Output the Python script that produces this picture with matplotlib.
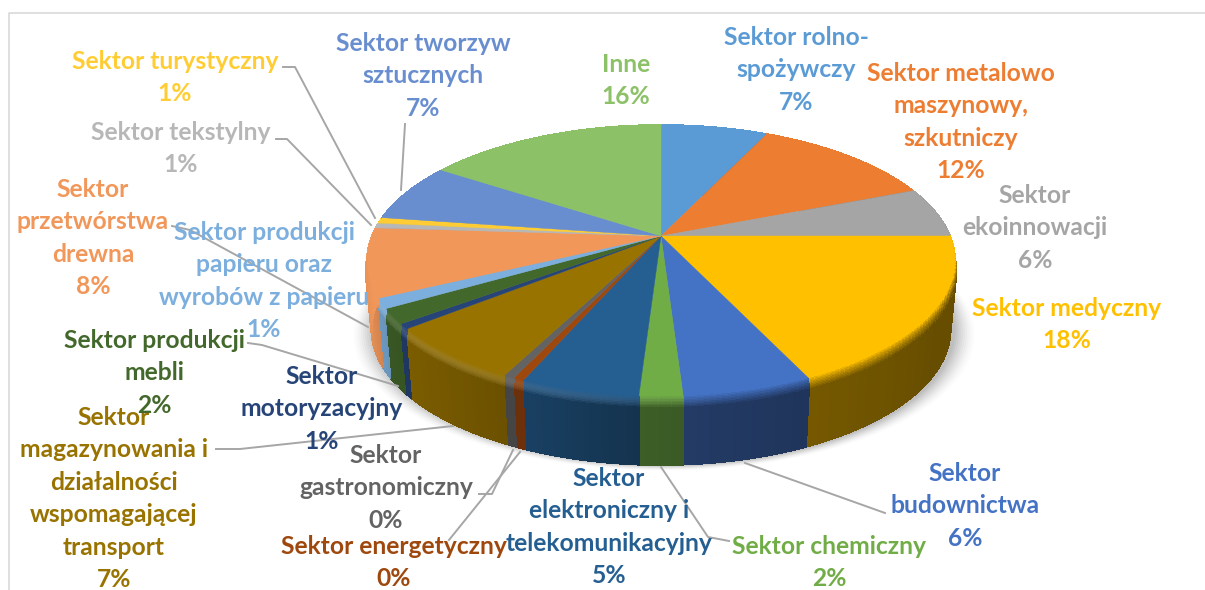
import numpy as np
import matplotlib
matplotlib.use("Agg")
import matplotlib.pyplot as plt
from matplotlib.collections import PolyCollection

categories = ["Sektor rolno-spożywczy", "Sektor metalowo maszynowy, szkutniczy", "Sektor ekoinnowacji",
              "Sektor medyczny", "Sektor budownictwa", "Sektor chemiczny",
              "Sektor elektroniczny i telekomunikacyjny", "Sektor energetyczny", "Sektor gastronomiczny",
              "Sektor magazynowania i działalności wspomagającej transport", "Sektor motoryzacyjny",
              "Sektor produkcji mebli", "Sektor produkcji papieru oraz wyrobów z papieru",
              "Sektor przetwórstwa drewna", "Sektor tekstylny", "Sektor turystyczny",
              "Sektor tworzyw sztucznych", "Inne"]
values = [7.0, 12.0, 6.0, 18.0, 6.0, 2.0, 5.5, 0.5, 0.5, 6.7, 0.6, 1.8, 1.2, 8.2, 0.6, 0.7, 7.0, 15.7]
percent_labels = ["7%", "12%", "6%", "18%", "6%", "2%", "5%", "0%", "0%", "7%", "1%", "2%", "1%", "8%", "1%", "1%", "7%", "16%"]
colors = ["#5b9bd5", "#ed7d31", "#a5a5a5", "#ffc000", "#4472c4", "#70ad47", "#255e91", "#9e480e", "#636363",
          "#997300", "#264478", "#43682b", "#7cafdd", "#f1975a", "#b7b7b7", "#ffcd33", "#698ed0", "#8cc168"]
label_lines = [["Sektor rolno-", "spożywczy"], ["Sektor metalowo", "maszynowy,", "szkutniczy"],
               ["Sektor", "ekoinnowacji"], ["Sektor medyczny"], ["Sektor", "budownictwa"], ["Sektor chemiczny"],
               ["Sektor", "elektroniczny i", "telekomunikacyjny"], ["Sektor energetyczny"],
               ["Sektor", "gastronomiczny"], ["Sektor", "magazynowania i", "działalności", "wspomagającej", "transport"],
               ["Sektor", "motoryzacyjny"], ["Sektor produkcji", "mebli"],
               ["Sektor produkcji", "papieru oraz", "wyrobów z papieru"], ["Sektor", "przetwórstwa", "drewna"],
               ["Sektor tekstylny"], ["Sektor turystyczny"], ["Sektor tworzyw", "sztucznych"], ["Inne"]]

# label anchors (centre x, first-line centre y) in pixels
label_pos = [(796, 37.5), (961, 73.5), (1035, 195.5), (1067, 308.5), (965, 473.5), (829, 546.5), (609, 478.5),
             (394, 546.5), (386, 455.5), (114, 417.5), (322, 376.5), (154, 340.5), (264, 232.5), (93, 189.5),
             (181, 132.5), (175, 61.5), (423, 43.5), (626, 64.5)]
PITCH = 32.4
leaders = [[(283, 67), (295, 67), (375, 218)], [(276, 139), (287, 139), (371, 225)],
           [(172, 226), (190, 230), (368, 327)], [(248, 343), (262, 345), (398, 386)],
           [(216, 449), (240, 449), (453, 426)], [(479, 494), (492, 494), (513, 450)],
           [(449, 540), (520, 452)], [(661, 467), (708, 537), (729, 541)],
           [(745, 463), (885, 513)], [(401, 190), (405, 124)]]

CX, CY, A, B, K, H = 661.0, 236.0, 289.0, 131.0, 0.181, 69.0


def project(theta, drop=0.0):
    u, v = np.sin(theta), np.cos(theta)
    den = 1 + K * v
    sx = np.interp(drop, [0, 11, H], [1.0, 1.005, 0.985])
    return CX + sx * A * u / den, CY - B * v / den + drop


fig = plt.figure(figsize=(12.05, 5.9), dpi=100, facecolor="white")
ax = fig.add_axes([0, 0, 1, 1])
ax.set_xlim(0, 1205)
ax.set_ylim(590, 0)
ax.axis("off")

ax.plot([9, 9, 1205], [590, 13, 13], color="#d9d9d9", lw=1.2, zorder=0)

# soft shadow under the pie
theta_all = np.linspace(0, 2 * np.pi, 361)
sx_, sy_ = project(theta_all, H)
for grow, alpha in zip(np.linspace(22, 2, 11), np.linspace(0.010, 0.04, 11)):
    f = 1 + grow / 300
    ax.fill(CX + 3 + (sx_ - CX) * f, sy_ + grow * 0.25, color="black", alpha=alpha, lw=0, zorder=1)

edges = np.concatenate([[0], np.cumsum(values)]) / np.sum(values) * 2 * np.pi

wall_theta = np.radians([0, 90, 120, 150, 170, 185, 200, 215, 240, 250, 270, 360])
wall_factor = [0.40, 0.40, 0.40, 0.45, 0.50, 0.55, 0.66, 0.74, 0.84, 0.92, 1.00, 1.00]
glow_factor = [0.0, -0.10, -0.10, -0.05, 0.0, 0.06, 0.10, 0.12, 0.12, 0.12, 0.12, 0.0]
levels = np.array([0, 1.5, 3, 4.5, 6, 7.5, 9, 10.5, 12, H])

quads, qcols = [], []
for lo, hi, c in zip(edges[:-1], edges[1:], colors):
    base = np.array(matplotlib.colors.to_rgb(c))
    n = max(2, int(np.degrees(hi - lo) / 1.0) + 1)
    ts = np.linspace(lo, hi, n)
    for t0, t1 in zip(ts[:-1], ts[1:]):
        tm = (t0 + t1) / 2
        wf = np.interp(tm, wall_theta, wall_factor)
        gf = np.interp(tm, wall_theta, glow_factor)
        wall = base * wf
        for l0, l1 in zip(levels[:-1], levels[1:]):
            s = min(1.0, l0 / 12)
            mix = base * (1 - s) + wall * s
            bump = gf * np.sin(np.pi * s)
            col = mix + (1 - mix) * bump if bump > 0 else mix * (1 + bump)
            x0, y0 = project(t0, l0)
            x1, y1 = project(t1, l0)
            x2, y2 = project(t1, l1)
            x3, y3 = project(t0, l1)
            quads.append([(x0, y0), (x1, y1), (x2, y2), (x3, y3)])
            qcols.append(np.clip(col, 0, 1))
ax.add_collection(PolyCollection(quads, facecolors=qcols, edgecolors=qcols, linewidths=0.7,
                                 antialiaseds=False, zorder=2))

# top face
for lo, hi, c in zip(edges[:-1], edges[1:], colors):
    ts = np.linspace(lo, hi, max(3, int(np.degrees(hi - lo)) + 2))
    xs, ys = project(ts)
    ax.fill(np.r_[CX, xs], np.r_[CY, ys], facecolor=c, edgecolor=c, lw=0.3, zorder=3)

for pts in leaders:
    xs, ys = zip(*pts)
    ax.plot(xs, ys, color="#a6a6a6", lw=1.4, zorder=4, solid_joinstyle="round")

for lines, pct, (x, y), c in zip(label_lines, percent_labels, label_pos, colors):
    for i, line in enumerate(lines + [pct]):
        ax.text(x, y + i * PITCH, line, ha="center", va="center", color=c, family="Lato",
                fontweight="bold", fontsize=17.7, zorder=5)

fig.savefig("out.png", dpi=100, facecolor="white")
